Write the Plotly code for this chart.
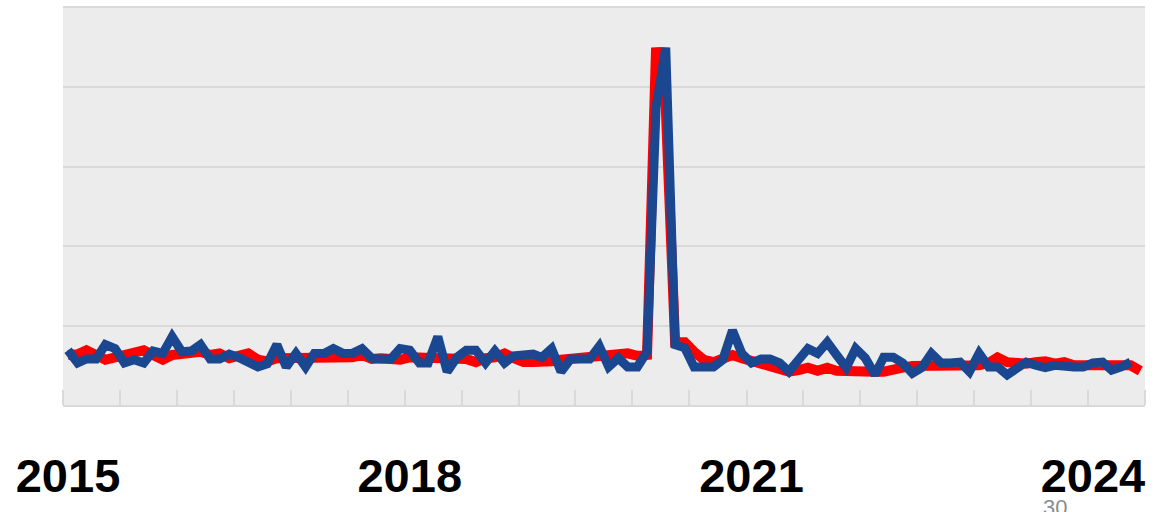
import pandas as pd
import plotly.graph_objects as go

# Monthly series, Jan 2015 onward
months = pd.date_range("2015-01-01", periods=114, freq="MS")

red_values = [
    63, 64, 69, 63, 57, 60, 63, 64, 69, 63, 57, 63, 65, 65, 67, 63, 65, 59, 63, 65,
    57, 55, 59, 59, 60, 60, 59, 58, 57, 59, 60, 63, 58, 59, 58, 57, 60, 60, 59, 59,
    58, 58, 58, 54, 59, 60, 65, 59, 54, 54, 53, 55, 57, 58, 58, 59, 60, 60, 63, 65,
    62, 63, 450, 375, 79, 79, 67, 57, 54, 59, 63, 59, 54, 52, 49, 47, 42, 44, 47, 43,
    47, 43, 42, 42, 42, 42, 42, 43, 47, 49, 49, 49, 49, 49, 49, 50, 50, 53, 60, 54,
    52, 52, 54, 55, 52, 54, 50, 50, 50, 50, 52, 52, 50, 43,
]

blue_values = [
    69, 53, 58, 58, 76, 71, 53, 57, 53, 68, 65, 86, 67, 68, 76, 58, 58, 64, 60, 55,
    48, 52, 76, 48, 65, 48, 65, 65, 71, 65, 65, 71, 59, 58, 58, 71, 69, 53, 53, 86,
    42, 60, 69, 69, 53, 68, 53, 62, 64, 64, 60, 71, 42, 58, 58, 58, 74, 48, 59, 48,
    48, 67, 375, 450, 76, 72, 48, 48, 48, 57, 94, 65, 53, 58, 58, 53, 42, 57, 71, 65,
    79, 63, 47, 71, 59, 38, 60, 60, 53, 40, 47, 65, 53, 53, 54, 42, 65, 48, 48, 38,
    47, 54, 50, 47, 50, 48, 48, 48, 53, 54, 44, 48, 54,
]

year_ticks = ["2015-01-01", "2018-01-01", "2021-01-01", "2024-01-01"]
year_labels = ["2015", "2018", "2021", "2024"]

fig = go.Figure()
fig.add_trace(go.Scatter(
    x=months, y=red_values, mode="lines",
    line=dict(color="#ff0000", width=10),
    hoverinfo="skip", showlegend=False,
))
fig.add_trace(go.Scatter(
    x=months[:len(blue_values)], y=blue_values, mode="lines",
    line=dict(color="#1a478f", width=9),
    hoverinfo="skip", showlegend=False,
))

fig.update_layout(
    width=1166, height=512,
    margin=dict(l=63, r=21, t=8, b=107),
    paper_bgcolor="white",
    plot_bgcolor="#ececec",
    xaxis=dict(
        type="date",
        range=["2014-12-16", "2024-06-16"],
        automargin=False,
        tickmode="array", tickvals=year_ticks, ticktext=year_labels,
        ticks="", showgrid=False, zeroline=False,
        showline=True, mirror=True, linecolor="#d9d9d9", linewidth=2,
        tickfont=dict(family="Liberation Sans, Arial, sans-serif",
                      size=47, color="black", weight="bold"),
        ticklabelstandoff=29,
        minor=dict(ticks="inside", ticklen=15, tickwidth=2, tickcolor="#d9d9d9",
                   tick0="2014-12-16", dtick="M6", showgrid=False),
    ),
    yaxis=dict(
        range=[0, 500], dtick=100, showticklabels=False, automargin=False,
        showgrid=True, gridcolor="#d9d9d9", gridwidth=2,
        zeroline=False, ticks="",
    ),
    annotations=[dict(
        text="30", xref="paper", yref="paper", x=0.917, y=-0.222,
        xanchor="center", yanchor="top", showarrow=False,
        font=dict(family="Liberation Sans, Arial, sans-serif",
                  size=22, color="#8c8c8c"),
    )],
)

fig.write_html("out.html")
